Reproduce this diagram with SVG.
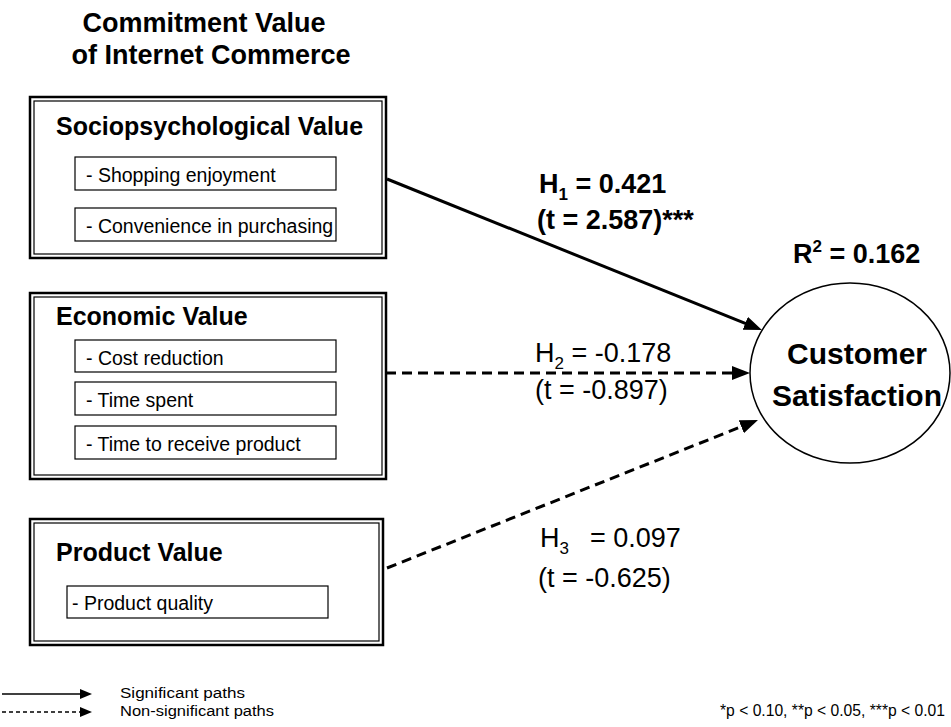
<svg xmlns="http://www.w3.org/2000/svg" width="951" height="727" viewBox="0 0 951 727">
<style>
.t{font-family:"Liberation Sans",Arial,sans-serif;fill:#000}
.b{font-weight:bold}
.outer{fill:none;stroke:#000;stroke-width:2.5}
.inner{fill:none;stroke:#000;stroke-width:1.2}
.sub{fill:#fff;stroke:#000;stroke-width:1.2}
.head{font-size:25px;font-weight:bold}
.item{font-size:19.5px}
.conn{fill:none;stroke:#000;stroke-width:3}
.dash{stroke-dasharray:10 6}
</style>
<defs>
<marker id="ah" markerUnits="userSpaceOnUse" markerWidth="20" markerHeight="16" refX="8" refY="7" orient="auto">
<path d="M0,0 L18,7 L0,14 z" fill="#000"/>
</marker>
<marker id="ahs" markerUnits="userSpaceOnUse" markerWidth="14" markerHeight="12" refX="0" refY="5" orient="auto">
<path d="M0,0 L12,5 L0,10 z" fill="#000"/>
</marker>
</defs>
<rect width="951" height="727" fill="#fff"/>

<g id="title">
<text class="t b" x="204" y="32" font-size="27" text-anchor="middle">Commitment Value</text>
<text class="t b" x="211" y="64" font-size="27" text-anchor="middle">of Internet Commerce</text>
</g>

<g id="sociopsychological">
<rect class="outer" x="30" y="97" width="356" height="161"/>
<rect class="inner" x="34" y="101" width="348" height="153"/>
<text class="t head" x="56" y="135">Sociopsychological Value</text>
<rect class="sub" x="75" y="157" width="261" height="33"/>
<text class="t item" x="86" y="182">- Shopping enjoyment</text>
<rect class="sub" x="75" y="208" width="261" height="33"/>
<text class="t item" x="86" y="233">- Convenience in purchasing</text>
</g>

<g id="economic">
<rect class="outer" x="30" y="293" width="356" height="186"/>
<rect class="inner" x="34" y="297" width="348" height="178"/>
<text class="t head" x="56" y="325">Economic Value</text>
<rect class="sub" x="75" y="340" width="261" height="32"/>
<text class="t item" x="86" y="365">- Cost reduction</text>
<rect class="sub" x="75" y="382" width="261" height="33"/>
<text class="t item" x="86" y="407">- Time spent</text>
<rect class="sub" x="75" y="426" width="261" height="33"/>
<text class="t item" x="86" y="451">- Time to receive product</text>
</g>

<g id="product">
<rect class="outer" x="30" y="519" width="353" height="126"/>
<rect class="inner" x="34" y="523" width="345" height="118"/>
<text class="t head" x="56" y="561">Product Value</text>
<rect class="sub" x="67" y="586" width="261" height="32"/>
<text class="t item" x="72" y="610">- Product quality</text>
</g>

<g id="satisfaction">
<ellipse cx="850" cy="373" rx="100" ry="90" fill="#fff" stroke="#000" stroke-width="1.5"/>
<text class="t b" x="857" y="364" font-size="30" text-anchor="middle">Customer</text>
<text class="t b" x="857" y="406" font-size="30" text-anchor="middle">Satisfaction</text>
<text class="t b" x="793" y="263" font-size="27">R<tspan font-size="17" dy="-11">2</tspan><tspan dy="11"> = 0.162</tspan></text>
</g>

<g id="connectors">
<line class="conn" x1="387" y1="179" x2="752.7" y2="326.3" stroke-width="3.5" marker-end="url(#ah)"/>
<line class="conn dash" x1="386" y1="373" x2="740" y2="373" marker-end="url(#ah)"/>
<line class="conn dash" x1="387" y1="568" x2="748.7" y2="423.7" marker-end="url(#ah)"/>
</g>

<g id="labels">
<text class="t b" x="539" y="193" font-size="27">H<tspan font-size="17" dy="7">1</tspan><tspan dy="-7"> = 0.421</tspan></text>
<text class="t b" x="537" y="229" font-size="27">(t = 2.587)***</text>
<text class="t" x="535" y="362" font-size="27">H<tspan font-size="17" dy="7">2</tspan><tspan dy="-7"> = -0.178</tspan></text>
<text class="t" x="535" y="399" font-size="27">(t = -0.897)</text>
<text class="t" x="540" y="547" font-size="27">H<tspan font-size="17" dy="7">3</tspan><tspan dy="-7" x="590">= 0.097</tspan></text>
<text class="t" x="538" y="587" font-size="27">(t = -0.625)</text>
</g>

<g id="legend">
<line x1="2" y1="694" x2="80" y2="694" stroke="#000" stroke-width="1.5" marker-end="url(#ahs)"/>
<line x1="2" y1="712" x2="80" y2="712" stroke="#000" stroke-width="1.5" stroke-dasharray="4 3" marker-end="url(#ahs)"/>
<text class="t" x="120" y="698" font-size="15.5" textLength="125" lengthAdjust="spacingAndGlyphs">Significant paths</text>
<text class="t" x="120" y="716" font-size="15.5" textLength="154" lengthAdjust="spacingAndGlyphs">Non-significant paths</text>
<text class="t" x="720" y="716" font-size="16" textLength="225" lengthAdjust="spacingAndGlyphs">*p &lt; 0.10, **p &lt; 0.05, ***p &lt; 0.01</text>
</g>
</svg>
